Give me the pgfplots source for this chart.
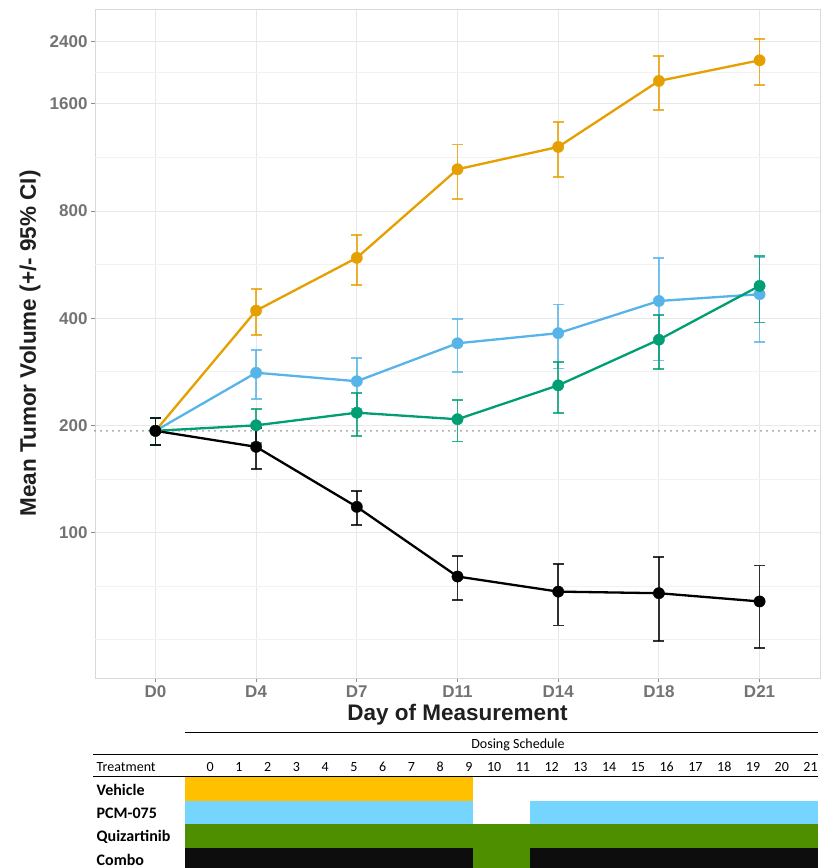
\documentclass[border=0pt]{standalone}
\usepackage{pgfplots}
\pgfplotsset{compat=1.18}
\usepackage{fontspec}
\setmainfont{Liberation Sans}
\newfontfamily\calibri{Carlito}
\definecolor{cVeh}{HTML}{E69F00}
\definecolor{cPCM}{HTML}{56B4E9}
\definecolor{cQui}{HTML}{009E73}
\definecolor{cCom}{HTML}{000000}
\definecolor{tVeh}{HTML}{FFC000}
\definecolor{tPCM}{HTML}{75D5FF}
\definecolor{tQui}{HTML}{4E8F00}
\definecolor{tCom}{HTML}{0D0D0D}
\pgfplotstableread{
x y e
1 193 17
2 420 62
3 591 95
4 1048 182
5 1211 212
6 1856 320
7 2121 312
}\vehicle
\pgfplotstableread{
x y e
1 193 17
2 281 44
3 266 43
4 340 57
5 363 74
6 447 143
7 467 125
}\pcm
\pgfplotstableread{
x y e
1 193 17
2 200 22
3 217 30
4 208 28
5 259 42
6 348 60
7 493 104
}\quiz
\pgfplotstableread{
x y e
1 193 17
2 174 23
3 118 13
4 75.2 10.6
5 68.2 13.4
6 67.5 17.9
7 64 16.7
}\combo
\pgfplotsset{
  myerr/.style={
    error bars/.cd, y dir=both, y explicit,
    error bar style={line width=1.8pt, opacity=0.8},
    error mark options={rotate=90, line width=1.8pt, mark size=5.5pt, opacity=0.8},
  },
  myline/.style={#1, line width=2.3pt, mark=*, mark size=5.7pt,
    mark options={fill=#1, draw=#1, line width=0.3pt}},
}
\begin{document}
\begin{tikzpicture}[x=1pt,y=1pt]
\useasboundingbox (0,0) rectangle (826,-868);
\begin{axis}[
  at={(95pt,-678pt)}, anchor=south west,
  scale only axis, width=725pt, height=669pt,
  xmin=0.4, xmax=7.6,
  ymode=log,
  ymin=39, ymax=2956,
  xtick={1,...,7}, xticklabels={D0,D4,D7,D11,D14,D18,D21},
  ytick={100,200,400,800,1600,2400}, yticklabels={100,200,400,800,1600,2400},
  extra y ticks={50,70.71,141.42,282.84,565.69,1131.37,1959.59},
  extra y tick labels={},
  extra y tick style={grid=major, major grid style={draw=black!5, line width=0.7pt}, major tick length=0pt},
  grid=major, minor tick num=0,
  major grid style={draw=black!9, line width=0.9pt},
  axis line style={draw=black!15, line width=0.9pt},
  tick style={draw=black!45, line width=0.9pt},
  major tick length=4pt,
  tick align=outside, xtick pos=bottom, ytick pos=left,
  ticklabel style={font=\fontsize{17}{19}\selectfont\bfseries, text=black!55},
  xlabel={Day of Measurement}, ylabel={Mean Tumor Volume (+/- 95\% CI)},
  label style={font=\fontsize{22.5}{26}\selectfont\bfseries, text=black!88},
  xlabel style={at={(axis description cs:0.5,-0.0555)}, anchor=center},
  ylabel style={at={(axis description cs:-0.0897,0.5)}, anchor=center},
  clip=false,
]
\addplot[black!40, line width=2pt, line cap=round, dash pattern=on 0pt off 6pt] coordinates {(0.4,193) (7.6,193)};
\addplot[myline=cVeh, myerr] table[x=x, y=y, y error=e] {\vehicle};
\addplot[myline=cPCM, myerr] table[x=x, y=y, y error=e] {\pcm};
\addplot[myline=cQui, myerr] table[x=x, y=y, y error=e] {\quiz};
\addplot[myline=cCom, myerr] table[x=x, y=y, y error=e] {\combo};
\end{axis}
\begin{axis}[
  at={(0pt,-868pt)}, anchor=south west,
  scale only axis, width=826pt, height=148pt,
  xmin=0, xmax=826, ymin=720, ymax=868, y dir=reverse,
  hide axis, clip=false,
]
% cells
\addplot[draw=none, fill=tVeh] coordinates {(185.1,777.2) (472.7,777.2) (472.7,800.5) (185.1,800.5)};
\addplot[draw=none, fill=tPCM] coordinates {(185.1,800.5) (472.7,800.5) (472.7,824.2) (185.1,824.2)};
\addplot[draw=none, fill=tPCM] coordinates {(530.2,800.5) (817.8,800.5) (817.8,824.2) (530.2,824.2)};
\addplot[draw=none, fill=tQui] coordinates {(185.1,824.2) (817.8,824.2) (817.8,848) (185.1,848)};
\addplot[draw=none, fill=tCom] coordinates {(185.1,848) (472.7,848) (472.7,870) (185.1,870)};
\addplot[draw=none, fill=tQui] coordinates {(472.7,848) (530.2,848) (530.2,870) (472.7,870)};
\addplot[draw=none, fill=tCom] coordinates {(530.2,848) (817.8,848) (817.8,870) (530.2,870)};
% rules
\addplot[black, line width=1.3pt] coordinates {(185,732.3) (818,732.3)};
\addplot[black, line width=1.3pt] coordinates {(93,754.3) (818,754.3)};
\addplot[black, line width=1.5pt] coordinates {(93,776.5) (818,776.5)};
% text
\node[font=\calibri\fontsize{14}{16}\selectfont, anchor=center] at (axis cs:518,744.5) {Dosing Schedule};
\node[font=\calibri\fontsize{14}{16}\selectfont, anchor=west, inner sep=0pt] at (axis cs:96.5,766.7) {Treatment};
\begin{scope}[every node/.style={font=\calibri\fontsize{14}{16}\selectfont, anchor=east, inner sep=0pt}]
\node at (axis cs:213.86,766.7) {0};
\node at (axis cs:242.62,766.7) {1};
\node at (axis cs:271.38,766.7) {2};
\node at (axis cs:300.14,766.7) {3};
\node at (axis cs:328.90,766.7) {4};
\node at (axis cs:357.66,766.7) {5};
\node at (axis cs:386.42,766.7) {6};
\node at (axis cs:415.18,766.7) {7};
\node at (axis cs:443.94,766.7) {8};
\node at (axis cs:472.70,766.7) {9};
\node at (axis cs:501.46,766.7) {10};
\node at (axis cs:530.22,766.7) {11};
\node at (axis cs:558.98,766.7) {12};
\node at (axis cs:587.74,766.7) {13};
\node at (axis cs:616.50,766.7) {14};
\node at (axis cs:645.26,766.7) {15};
\node at (axis cs:674.02,766.7) {16};
\node at (axis cs:702.78,766.7) {17};
\node at (axis cs:731.54,766.7) {18};
\node at (axis cs:760.30,766.7) {19};
\node at (axis cs:789.06,766.7) {20};
\node at (axis cs:817.82,766.7) {21};
\end{scope}
\begin{scope}[every node/.style={font=\calibri\bfseries\fontsize{16}{18}\selectfont, anchor=west, inner sep=0pt}]
\node at (axis cs:96.5,789.5) {Vehicle};
\node at (axis cs:96.5,813) {PCM-075};
\node at (axis cs:96.5,836.5) {Quizartinib};
\node at (axis cs:96.5,859.5) {Combo};
\end{scope}
\end{axis}
\end{tikzpicture}
\end{document}
